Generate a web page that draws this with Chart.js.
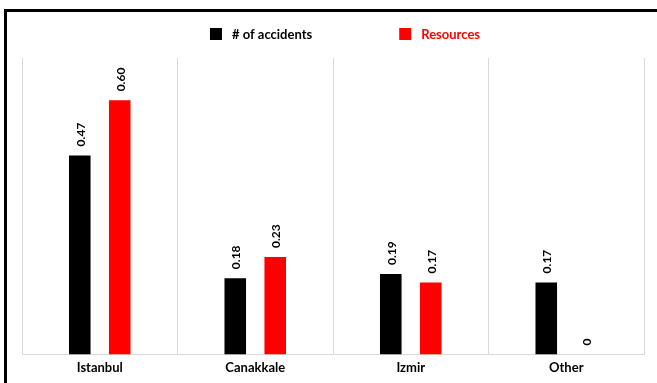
<!DOCTYPE html>
<html>
<head>
<meta charset="utf-8">
<script src="https://cdn.jsdelivr.net/npm/chart.js@4.4.1/dist/chart.umd.min.js"></script>
<style>
  html, body { margin: 0; padding: 0; background: #fff; }
  #wrap { position: absolute; left: 0; top: 0; width: 657px; height: 383px; }
</style>
</head>
<body>
<div id="wrap"><canvas id="c" width="657" height="383"></canvas></div>
<script>
// Regions and shares
const categories = ['Istanbul', 'Canakkale', 'Izmir', 'Other'];
const accidents = [0.47, 0.18, 0.19, 0.17];
const resources = [0.60, 0.23, 0.17, 0];
const seriesNames = ['# of accidents', 'Resources'];
const seriesColors = ['#000000', '#ff0000'];

const FONT = 'Lato, "Open Sans", sans-serif';

// Black frame along the top and left edges
const framePlugin = {
  id: 'frame',
  beforeDraw(chart) {
    const ctx = chart.ctx;
    ctx.save();
    ctx.fillStyle = '#fff';
    ctx.fillRect(0, 0, chart.width, chart.height);
    ctx.fillStyle = '#000';
    ctx.fillRect(4, 9, chart.width - 4, 3);
    ctx.fillRect(4, 9, 3, chart.height - 9);
    ctx.restore();
  }
};

// Legend: square swatch followed by label in the series colour
const legendPlugin = {
  id: 'topLegend',
  afterDraw(chart) {
    const ctx = chart.ctx;
    ctx.save();
    ctx.font = 'bold 13px ' + FONT;
    ctx.textBaseline = 'middle';
    const box = 12, gapText = 10, gapItem = 87;
    const items = chart.data.datasets.map(ds => ({
      label: ds.label, color: ds.backgroundColor,
      w: box + gapText + ctx.measureText(ds.label).width
    }));
    const total = items.reduce((s, it) => s + it.w, 0) + gapItem * (items.length - 1);
    const ca = chart.chartArea;
    let x = (ca.left + ca.right) / 2 + 12 - total / 2;
    const y = 34;
    items.forEach(it => {
      ctx.fillStyle = it.color;
      ctx.fillRect(x, y - box / 2, box, box);
      ctx.fillText(it.label, x + box + gapText, y + 1);
      x += it.w + gapItem;
    });
    ctx.restore();
  }
};

// Vertical value labels above each bar
const valueLabels = {
  id: 'valueLabels',
  afterDatasetsDraw(chart) {
    const ctx = chart.ctx;
    ctx.save();
    ctx.font = 'bold 12px ' + FONT;
    ctx.fillStyle = '#000';
    ctx.textAlign = 'left';
    ctx.textBaseline = 'middle';
    chart.data.datasets.forEach((ds, di) => {
      const meta = chart.getDatasetMeta(di);
      meta.data.forEach((bar, i) => {
        const v = ds.data[i];
        const txt = v === 0 ? '0' : v.toFixed(2);
        ctx.save();
        ctx.translate(bar.x + 1, bar.y - 9);
        ctx.rotate(-Math.PI / 2);
        ctx.fillText(txt, 0, 0);
        ctx.restore();
      });
    });
    ctx.restore();
  }
};

new Chart(document.getElementById('c'), {
  type: 'bar',
  data: {
    labels: categories,
    datasets: [
      { label: seriesNames[0], data: accidents, backgroundColor: seriesColors[0] },
      { label: seriesNames[1], data: resources, backgroundColor: seriesColors[1] }
    ]
  },
  options: {
    responsive: false,
    animation: false,
    devicePixelRatio: 1,
    layout: { padding: { top: 58, left: 22, right: 13, bottom: 1 } },
    datasets: { bar: { categoryPercentage: 0.514, barPercentage: 0.54 } },
    plugins: { legend: { display: false }, tooltip: { enabled: false } },
    scales: {
      x: {
        grid: { display: true, color: '#d9d9d9', lineWidth: 1, drawTicks: false, offset: true },
        border: { display: true, color: '#d9d9d9', width: 1 },
        ticks: { color: '#000', padding: 6, font: { family: FONT, size: 13, weight: 'bold' } }
      },
      y: {
        display: false,
        min: 0,
        max: 0.7
      }
    }
  },
  plugins: [framePlugin, legendPlugin, valueLabels]
});
</script>
</body>
</html>
